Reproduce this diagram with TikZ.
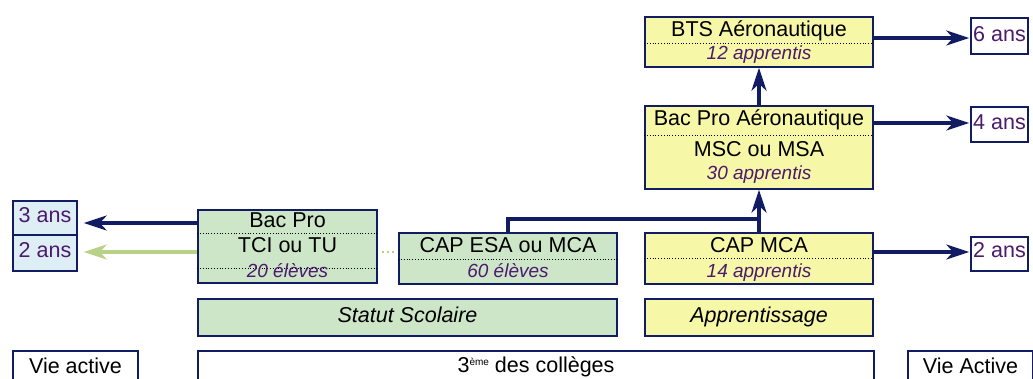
\documentclass[tikz,border=0pt]{standalone}
\usepackage{fontspec}
\setmainfont{Liberation Sans}
\usetikzlibrary{arrows.meta}

\definecolor{navy}{RGB}{18,28,98}
\definecolor{lilas}{RGB}{75,25,110}
\definecolor{vert}{RGB}{205,230,200}
\definecolor{jaune}{RGB}{247,247,168}
\definecolor{ciel}{RGB}{222,238,245}
\definecolor{pousse}{RGB}{185,210,135}

\tikzset{
  box/.style={draw=navy,line width=1.5pt,inner sep=0pt},
  greenbox/.style={box,fill=vert},
  yellowbox/.style={box,fill=jaune},
  bluebox/.style={box,fill=ciel},
  txt/.style={inner sep=0pt,anchor=base,font=\fontsize{21.5}{24}\selectfont},
  nb/.style={inner sep=0pt,anchor=base,text=lilas,font=\fontsize{19}{22}\selectfont\itshape},
  ans/.style={txt,text=lilas},
  sep/.style={dotted,line width=0.8pt},
  flow/.style={draw=navy,line width=3.2pt,-{Stealth[length=23pt,width=15pt,inset=7pt]}},
  flowgreen/.style={flow,draw=pousse},
}

\begin{document}
\begin{tikzpicture}[x=1pt,y=-1pt]
\useasboundingbox (0,0) rectangle (1033,379);
\clip (0,0) rectangle (1033,379);

% apprentissage
\node[yellowbox,minimum width=228pt,minimum height=50pt] (bts) at (759,42) {};
\draw[sep] (bts.west |- 0,43) -- (bts.east |- 0,43);
\node[txt] (btsA) at (759,37) {BTS Aéronautique};
\node[nb] (btsB) at (759,60) {12 apprentis};

\node[yellowbox,minimum width=228pt,minimum height=83pt] (bac) at (759,147.5) {};
\draw[sep] (bac.west |- 0,135) -- (bac.east |- 0,135);
\node[txt] (bacA) at (759,126) {Bac Pro Aéronautique};
\node[txt] (bacB) at (759,157) {MSC ou MSA};
\node[nb] (bacC) at (759,180) {30 apprentis};

\node[yellowbox,minimum width=228pt,minimum height=51pt] (cap) at (759,258.5) {};
\draw[sep] (cap.west |- 0,258) -- (cap.east |- 0,258);
\node[txt] (capA) at (759,253) {CAP MCA};
\node[nb] (capB) at (759,277) {14 apprentis};

\node[yellowbox,minimum width=228pt,minimum height=37pt] (appr) at (759,317.5) {};
\node[txt,font=\fontsize{21.5}{24}\selectfont\itshape] (apprA) at (759,323) {Apprentissage};

% statut scolaire
\node[greenbox,minimum width=218pt,minimum height=51pt] (esa) at (508,258.5) {};
\draw[sep] (esa.west |- 0,259) -- (esa.east |- 0,259);
\node[txt] (esaA) at (508,253) {CAP ESA ou MCA};
\node[nb] (esaB) at (508,277) {60 élèves};

\node[greenbox,minimum width=179pt,minimum height=73pt] (tci) at (287.5,246.5) {};
\draw[sep] (tci.west |- 0,233) -- (tci.east |- 0,233);
\draw[sep] (tci.west |- 0,268) -- (tci.east |- 0,268);
\node[txt] (tciA) at (287.5,228) {Bac Pro};
\node[txt] (tciB) at (287.5,253) {TCI ou TU};
\node[nb] (tciC) at (287.5,277) {20 élèves};

\node[greenbox,minimum width=419pt,minimum height=37pt] (scol) at (407.5,317.5) {};
\node[txt,font=\fontsize{21.5}{24}\selectfont\itshape] (scolA) at (407.5,323) {Statut Scolaire};

% durees
\node[box,fill=white,minimum width=57pt,minimum height=36pt] (six) at (999.5,36) {};
\node[ans] (sixA) at (999.5,42) {6 ans};
\node[box,fill=white,minimum width=57pt,minimum height=35pt] (four) at (999.5,124.5) {};
\node[ans] (fourA) at (999.5,130) {4 ans};
\node[box,fill=white,minimum width=57pt,minimum height=34pt] (twoR) at (999.5,254) {};
\node[ans] (twoRA) at (999.5,258) {2 ans};
\node[bluebox,minimum width=64pt,minimum height=34pt] (three) at (45,218) {};
\node[ans] (threeA) at (45,223) {3 ans};
\node[bluebox,minimum width=64pt,minimum height=36pt] (twoL) at (45,253) {};
\node[ans] (twoLA) at (45,258) {2 ans};

% bas
\node[box,fill=white,minimum width=125pt,minimum height=44pt] (vieL) at (75.5,373) {};
\node[txt] (vieLA) at (75.5,373) {Vie active};
\node[box,fill=white,minimum width=676pt,minimum height=44pt] (coll) at (536,373) {};
\node[txt] (collA) at (536,372) {3\raisebox{7pt}{\fontsize{10}{10}\selectfont ème} des collèges};
\node[box,fill=white,minimum width=125pt,minimum height=44pt] (vieR) at (970.5,373) {};
\node[txt] (vieRA) at (970.5,373) {Vie Active};

% fleches
\coordinate (join) at (cap.north |- 0,219);
\draw[navy,line width=3.2pt] (esa.north) |- (join);
\draw[flow] (cap.north) -- (bac.south);
\draw[flow] (bac.north) -- (bts.south);
\draw[flow,shorten >=1pt] (bts.east |- 0,38) -- (six.west |- 0,38);
\draw[flow,shorten >=1pt] (bac.east |- 0,123) -- (four.west |- 0,123);
\draw[flow,shorten >=1pt] (cap.east |- 0,252) -- (twoR.west |- 0,252);
\draw[flow,shorten >=6pt] (tci.west |- 0,223) -- (three.east |- 0,223);
\draw[flowgreen,shorten >=6pt] (tci.west |- 0,252) -- (twoL.east |- 0,252);
\draw[pousse,line width=2.2pt,dash pattern=on 2.2pt off 3pt,shorten <=4pt,shorten >=3pt]
  (tci.east |- 0,252) -- (esa.west |- 0,252);
\end{tikzpicture}
\end{document}
